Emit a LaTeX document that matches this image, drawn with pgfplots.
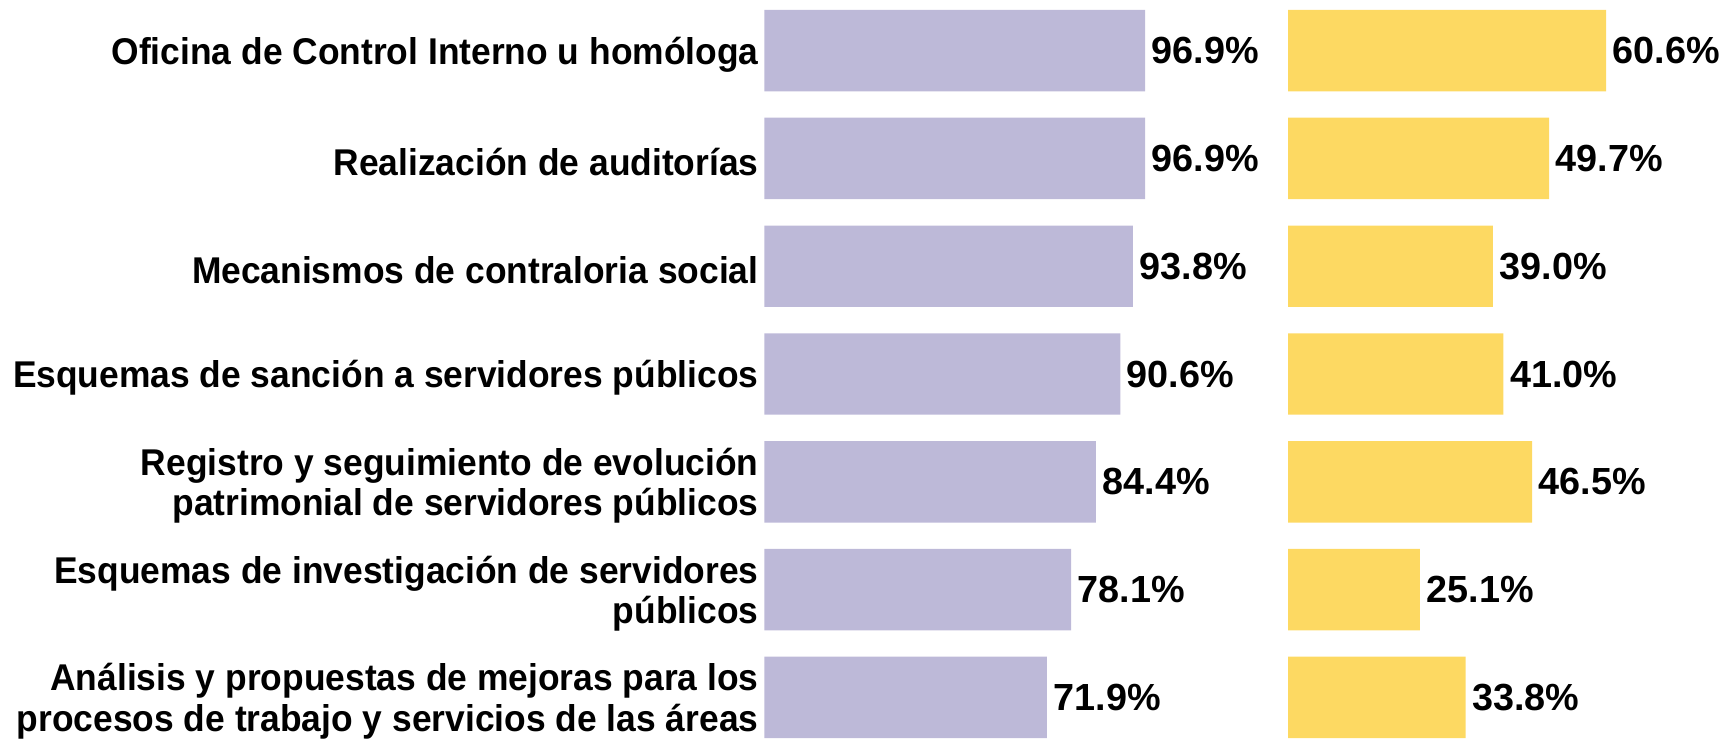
\documentclass[border=0pt]{standalone}
\usepackage{pgfplots}
\pgfplotsset{compat=1.18}
\usepackage{fontspec}
\setmainfont{Liberation Sans}
\newfontfamily\labfont[FakeStretch=0.95]{Liberation Sans}
\definecolor{cpurple}{RGB}{189,185,216}
\definecolor{cyellow}{RGB}{253,217,98}
\pgfplotsset{
  panel/.style={
    xbar, scale only axis,
    height=75.46mm,
    ymin=-0.5, ymax=6.5, y dir=reverse,
    xmin=0, enlarge x limits=false, enlarge y limits=false,
    bar width=8.14mm,
    axis line style={draw=none}, tick style={draw=none},
    xtick=\empty, ytick={0,...,6},
    point meta=x,
    nodes near coords={\pgfmathprintnumber[fixed,fixed zerofill,precision=1,assume math mode=true]{\pgfplotspointmeta}\%},
    nodes near coords style={anchor=west, inner sep=0pt, xshift=0.6mm,
      font=\bfseries\fontsize{10.75}{12}\selectfont},
    clip=false,
  }
}
\begin{document}
\begin{tikzpicture}
\useasboundingbox (0,0) rectangle (172.5mm,73.8mm);
\clip (0,0) rectangle (172.5mm,73.8mm);
\begin{axis}[panel,
  at={(76.45mm,-1.33mm)}, anchor=south west,
  width=39.27mm, xmax=100,
  yticklabels={
    Oficina de Control Interno u homóloga,
    Realización de auditorías,
    Mecanismos de contraloria social,
    Esquemas de sanción a servidores públicos,
    {Registro y seguimiento de evolución\\patrimonial de servidores públicos},
    {Esquemas de investigación de servidores\\públicos},
    {Análisis y propuestas de mejoras para los\\procesos de trabajo y servicios de las áreas}
  },
  yticklabel style={anchor=east, align=right, inner sep=0pt, xshift=0.97mm, yshift=-0.4mm,
    font=\labfont\bfseries\fontsize{10.6}{11.6}\selectfont},
]
\addplot[fill=cpurple, draw=none] coordinates {
  (96.9,0) (96.9,1) (93.8,2) (90.6,3) (84.4,4) (78.1,5) (71.9,6)
};
\end{axis}
\begin{axis}[panel,
  at={(128.81mm,-1.33mm)}, anchor=south west,
  width=39.375mm, xmax=75,
  yticklabels={},
]
\addplot[fill=cyellow, draw=none] coordinates {
  (60.6,0) (49.7,1) (39.0,2) (41.0,3) (46.5,4) (25.1,5) (33.8,6)
};
\end{axis}
\end{tikzpicture}
\end{document}
